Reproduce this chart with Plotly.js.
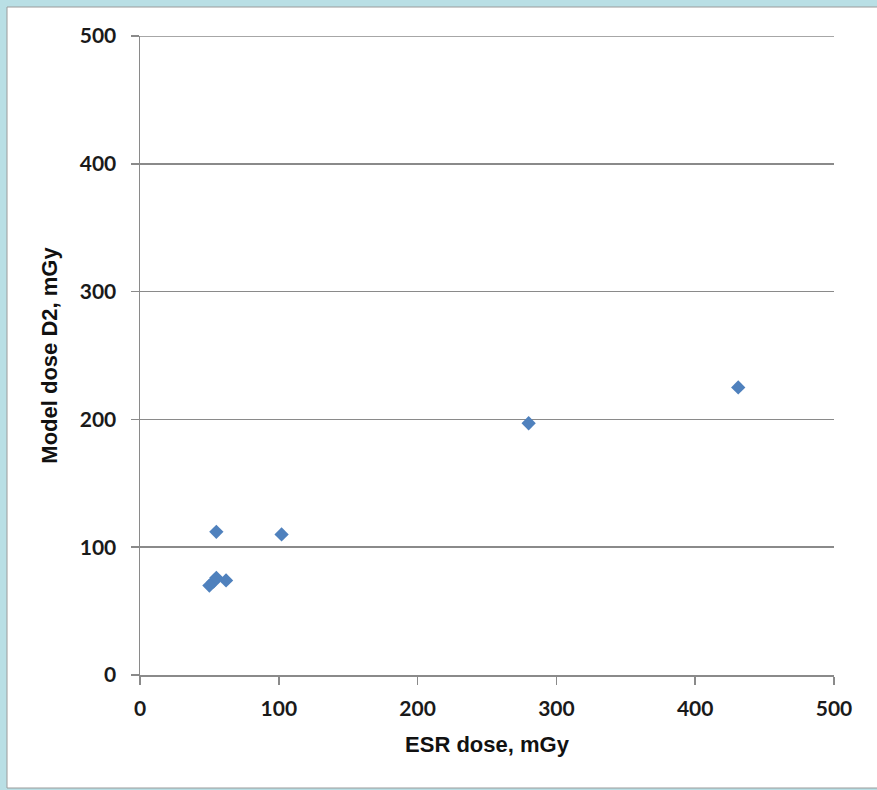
<!DOCTYPE html>
<html>
<head>
<meta charset="utf-8">
<script src="https://cdn.plot.ly/plotly-3.0.1.min.js"></script>
<style>html,body{margin:0;padding:0;background:#b9dfe5;}#chart{width:877px;height:790px;}</style>
</head>
<body>
<div id="chart"></div>
<script>
// ESR dose (mGy) vs model dose D2 (mGy)
const esrDose = [50, 53, 55, 62, 55, 102, 280, 431];
const modelDoseD2 = [70, 73, 76, 74, 112, 110, 197, 225];
const tickValues = [0, 100, 200, 300, 400, 500];

const W = 877, H = 790;
const m = {l: 140, r: 43, t: 36, b: 115};
const pw = W - m.l - m.r, ph = H - m.t - m.b;
function px(xp){ return (xp - m.l) / pw; }
function py(yp){ return (H - m.b - yp) / ph; }

const trace = {
  x: esrDose, y: modelDoseD2, type: 'scatter', mode: 'markers',
  marker: {symbol: 'diamond', size: 11, color: '#4f81bd', line: {width: 0}},
  hoverinfo: 'x+y'
};

const fontTick = {family: 'Lato, "DejaVu Sans", sans-serif', size: 21, color: '#1a1a1a', weight: 'bold'};
const fontTitle = {family: '"Liberation Sans", Arial, sans-serif', size: 22, color: '#111', weight: 'bold'};
const layout = {
  width: W, height: H,
  paper_bgcolor: '#b9dfe5', plot_bgcolor: 'rgba(0,0,0,0)',
  margin: m, showlegend: false,
  shapes: [{
    type: 'rect', layer: 'below', xref: 'paper', yref: 'paper',
    x0: px(7), x1: px(880), y0: py(788), y1: py(7),
    fillcolor: '#ffffff', line: {color: '#9a9a9a', width: 1}
  }, {
    type: 'line', layer: 'below', xref: 'paper', yref: 'y',
    x0: 0, x1: 1, y0: tickValues[tickValues.length - 1], y1: tickValues[tickValues.length - 1],
    line: {color: '#8a8a8a', width: 1.5}
  }],
  xaxis: {
    range: [0, 500], tickvals: tickValues, ticktext: tickValues.map(String),
    showgrid: false, zeroline: false, showline: true, linecolor: '#8a8a8a', linewidth: 1.5,
    ticks: 'outside', ticklen: 8, tickcolor: '#8a8a8a', tickwidth: 1.5,
    tickfont: fontTick, ticklabelstandoff: 6,
    title: {text: 'ESR dose, mGy', font: fontTitle, standoff: 18}
  },
  yaxis: {
    range: [0, 500], tickvals: tickValues, ticktext: tickValues.map(String),
    showgrid: true, gridcolor: '#8a8a8a', gridwidth: 1.5,
    zeroline: false, showline: true, linecolor: '#8a8a8a', linewidth: 1.5,
    ticks: 'outside', ticklen: 8, tickcolor: '#8a8a8a', tickwidth: 1.5,
    tickfont: fontTick, ticklabelstandoff: 10,
    title: {text: 'Model dose D2, mGy', font: fontTitle, standoff: 16}
  }
};

Plotly.newPlot('chart', [trace], layout, {displayModeBar: false, staticPlot: true});
</script>
</body>
</html>
